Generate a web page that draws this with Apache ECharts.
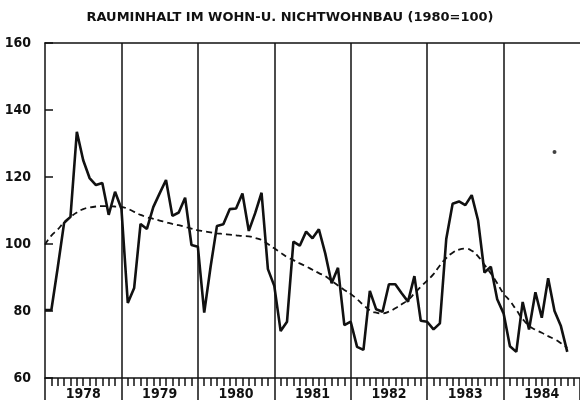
<!DOCTYPE html>
<html>
<head>
<meta charset="utf-8">
<script src="https://cdn.jsdelivr.net/npm/echarts@6/dist/echarts.min.js"></script>
<style>
html, body { margin: 0; padding: 0; background: #fff; }
#chart { width: 580px; height: 409px; }
</style>
</head>
<body>
<div id="chart"></div>
<script>
// Jahre auf der x-Achse, Monatswerte ab Januar 1978
var years = ['1978', '1979', '1980', '1981', '1982', '1983', '1984'];
var monthsPerYear = 12;

// Rauminhalt, Monatswerte (1980=100)
var actual = [
  80.3, 80.3, 93.0, 106.3, 108.1, 133.5, 125.0, 119.7, 117.6, 118.2, 108.7, 115.6,
  110.5, 82.4, 86.9, 106.0, 104.5, 111.0, 115.1, 119.1, 108.4, 109.4, 113.8, 99.7,
  99.2, 79.5, 93.2, 105.4, 105.9, 110.4, 110.6, 115.1, 103.9, 109.2, 115.3, 92.5,
  87.5, 74.0, 76.8, 100.7, 99.5, 103.7, 101.7, 104.4, 97.2, 88.3, 92.9, 75.8,
  76.8, 69.3, 68.4, 86.0, 80.5, 79.8, 88.0, 88.0, 85.3, 82.8, 90.4, 77.1,
  76.8, 74.5, 76.3, 101.5, 112.0, 112.7, 111.6, 114.6, 107.0, 91.5, 93.2, 83.5,
  79.3, 69.5, 67.8, 82.7, 74.5, 85.6, 78.0, 89.8, 80.0, 75.5, 67.8
];

// Trend (gestrichelt)
var trend = [
  99.8, 102.5, 104.3, 106.5, 108.1, 109.4, 110.4, 110.9, 111.2, 111.3, 111.3, 111.2,
  111.1, 110.5, 109.6, 108.7, 108.0, 107.5, 107.0, 106.5, 106.0, 105.6, 105.1, 104.6,
  104.1, 103.8, 103.5, 103.2, 103.0, 102.8, 102.6, 102.4, 102.3, 101.8, 101.2, 100.0,
  98.7, 97.4, 96.1, 95.2, 94.2, 93.3, 92.3, 91.3, 90.4, 89.0, 87.6, 86.3,
  85.1, 83.5, 81.8, 80.2, 79.5, 79.3, 79.8, 80.8, 82.0, 83.3, 85.2, 87.2,
  89.1, 91.0, 93.6, 95.8, 97.4, 98.3, 98.6, 98.0, 96.3, 93.8, 91.2, 88.3,
  85.2, 83.0, 80.3, 77.6, 75.6, 74.4, 73.5, 72.5, 71.6, 70.4, 69.0
];

// einzelner Punkt oben rechts (Monatsindex, Wert)
var strayDot = [[80, 127.5]];

var yMin = 60, yMax = 160, yStep = 20;

var ink = '#111';
var labelFont = '"Liberation Sans Narrow", "DejaVu Sans Condensed", sans-serif';

function toPoints(arr) {
  return arr.map(function (v, i) { return [i, v]; });
}

// senkrechte Linien an den Jahreswechseln
var yearBreaks = years.slice(1).map(function (y, k) {
  return { xAxis: (k + 1) * monthsPerYear };
});

var myChart = echarts.init(document.getElementById('chart'));

var option = {
  animation: false,
  backgroundColor: '#fff',
  title: {
    text: 'RAUMINHALT IM WOHN-U. NICHTWOHNBAU (1980=100)',
    left: 'center',
    top: 6,
    textStyle: {
      fontFamily: '"DejaVu Sans", sans-serif',
      fontWeight: 'bold',
      fontSize: 13,
      color: ink
    }
  },
  grid: { left: 45, right: 0, top: 43, bottom: 31 },
  xAxis: [
    {
      // Monatsskala
      type: 'value',
      min: 0,
      max: years.length * monthsPerYear,
      interval: 1,
      position: 'bottom',
      axisLine: { show: true, lineStyle: { color: ink, width: 1.5 } },
      axisTick: { show: true, length: 8, lineStyle: { color: ink, width: 1.5 } },
      axisLabel: { show: false },
      splitLine: { show: false }
    },
    {
      // Jahresbeschriftung
      type: 'category',
      data: years,
      boundaryGap: true,
      position: 'bottom',
      axisLine: { show: false },
      axisTick: { show: true, length: 22, lineStyle: { color: ink, width: 1.5 } },
      axisLabel: {
        margin: 9,
        fontFamily: labelFont,
        fontWeight: 'bold',
        fontSize: 14,
        color: ink
      },
      splitLine: { show: false }
    },
    {
      // obere Rahmenlinie
      type: 'value',
      min: 0,
      max: years.length * monthsPerYear,
      position: 'top',
      axisLine: { show: true, lineStyle: { color: ink, width: 1.5 } },
      axisTick: { show: false },
      axisLabel: { show: false },
      splitLine: { show: false }
    }
  ],
  yAxis: {
    type: 'value',
    min: yMin,
    max: yMax,
    interval: yStep,
    axisLine: { show: true, lineStyle: { color: ink, width: 1.5 } },
    axisTick: { show: true, inside: true, length: 8, lineStyle: { color: ink, width: 1.5 } },
    axisLabel: {
      margin: 14,
      fontFamily: labelFont,
      fontWeight: 'bold',
      fontSize: 14,
      color: ink
    },
    splitLine: { show: false }
  },
  series: [
    {
      name: 'Rauminhalt',
      type: 'line',
      xAxisIndex: 0,
      data: toPoints(actual),
      symbol: 'none',
      lineStyle: { color: ink, width: 2.6 },
      z: 3,
      markLine: {
        silent: true,
        symbol: 'none',
        label: { show: false },
        lineStyle: { color: ink, width: 1.5, type: 'solid' },
        data: yearBreaks
      }
    },
    {
      name: 'Trend',
      type: 'line',
      xAxisIndex: 0,
      data: toPoints(trend),
      symbol: 'none',
      smooth: true,
      lineStyle: { color: ink, width: 1.8, type: [6, 4] },
      z: 2
    },
    {
      name: 'Punkt',
      type: 'scatter',
      xAxisIndex: 0,
      data: strayDot,
      symbol: 'circle',
      symbolSize: 4,
      itemStyle: { color: ink }
    }
  ]
};

myChart.setOption(option);
</script>
</body>
</html>
